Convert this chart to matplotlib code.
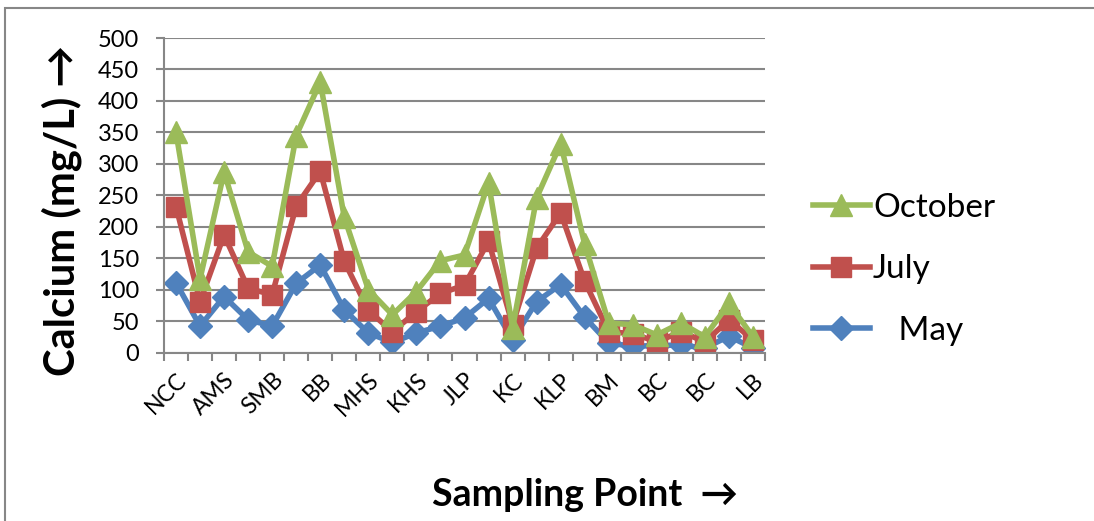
import matplotlib
matplotlib.use('Agg')
import matplotlib.pyplot as plt
from matplotlib.patches import Rectangle

plt.rcParams['font.family'] = ['Lato', 'DejaVu Sans']

# sampling points (only every second one is labelled on the axis)
points = ['NCC', '', 'AMS', '', 'SMB', '', 'BB', '', 'MHS', '', 'KHS', '', 'JLP',
          '', 'KC', '', 'KLP', '', 'BM', '', 'BC', '', 'BC', '', 'LB']

may = [111, 42, 89, 52, 42, 110, 139, 68, 31, 16, 31, 42, 55,
       86, 20, 81, 108, 56, 15, 10, 11, 12, 7, 26, 7]
july = [232, 81, 187, 102, 92, 233, 288, 145, 67, 33, 65, 94, 107,
        177, 44, 166, 222, 113, 33, 30, 17, 33, 17, 52, 20]
october = [350, 117, 287, 160, 137, 345, 430, 215, 100, 60, 97, 146, 155,
           270, 39, 246, 332, 172, 47, 44, 28, 47, 25, 78, 25]

fig = plt.figure(figsize=(10.94, 5.21), dpi=100)
ax = fig.add_axes([0.1499, 0.3234, 0.5494, 0.6036])

x = list(range(len(points)))
ax.plot(x, may, color='#4F81BD', lw=4, marker='D', ms=12, label='   May')
ax.plot(x, july, color='#C0504D', lw=4, marker='s', ms=14, label='July')
ax.plot(x, october, color='#9BBB59', lw=4, marker='^', ms=16, label='October')

ax.set_xlim(-0.5, len(points) - 0.5)
ax.set_ylim(0, 500)
ax.set_yticks(range(0, 501, 50))
ax.yaxis.grid(True, color='#878787', lw=1.5)
ax.set_axisbelow(True)

ax.set_xticks(x[::2])
ax.set_xticklabels(points[::2], rotation=45, ha='right', rotation_mode='anchor')
ax.set_xticks([i - 0.5 for i in range(len(points) + 1)], minor=True)
ax.tick_params(axis='x', which='major', length=0, labelsize=16.5, pad=12)
ax.tick_params(axis='x', which='minor', length=6, width=1.5, color='#878787')
ax.tick_params(axis='y', length=6, width=1.5, color='#878787', labelsize=17, pad=12)

for s in ['top', 'right']:
    ax.spines[s].set_visible(False)
for s in ['left', 'bottom']:
    ax.spines[s].set_color('#878787')
    ax.spines[s].set_linewidth(1.5)

ax.set_ylabel('Calcium (mg/L) \u2192', fontsize=30, fontweight='bold')
ax.yaxis.set_label_coords(-0.137, 0.45)
fig.text(0.535, 0.05, 'Sampling Point  \u2192', fontsize=27, fontweight='bold',
         ha='center', va='center')

h, l = ax.get_legend_handles_labels()
ax.legend(h[::-1], l[::-1], loc='center left', bbox_to_anchor=(1.03, 0.265),
          frameon=False, fontsize=24, handlelength=1.7, labelspacing=0.95,
          handletextpad=0.1)

# outer chart frame
fig.add_artist(Rectangle((5 / 1094, -0.1), 1.2, 1.1 - 8 / 521, transform=fig.transFigure,
                         fill=False, edgecolor='#878787', lw=1.5))

fig.savefig('out.png', dpi=100)
